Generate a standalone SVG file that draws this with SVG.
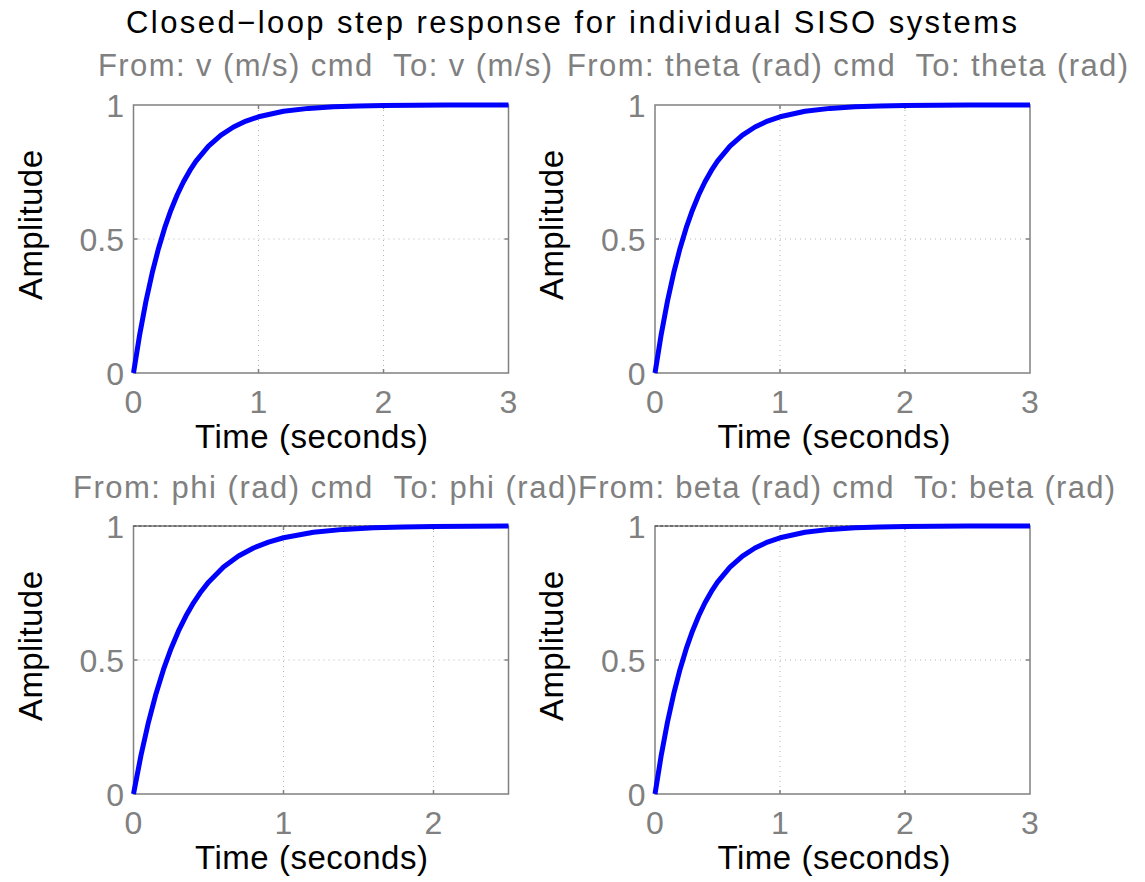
<svg xmlns="http://www.w3.org/2000/svg" width="1145" height="882" viewBox="0 0 1145 882">
<style>
text{font-family:"Liberation Sans",Arial,sans-serif}
.title{font-size:31px;fill:#000}
.sub{font-size:31px;fill:#808080;white-space:pre}
.lab{font-size:33px;fill:#000}
.tick{font-size:32px;fill:#808080}
.frame{fill:#fff;stroke:#808080;stroke-width:1.5}
.grid{stroke:#b4b4b4;stroke-width:1;stroke-dasharray:1 4;fill:none}
.tk{stroke:#808080;stroke-width:1.5}
.ss{stroke:#404040;stroke-width:1;stroke-dasharray:3 2;fill:none}
.curve{fill:none;stroke:#0000ff;stroke-width:5;stroke-linejoin:round;stroke-linecap:butt}
</style>
<defs>
<path id="c3" d="M0,0 L6.25,-38.78 12.5,-71.93 18.75,-100.29 25,-124.54 31.25,-145.31 37.5,-163.05 43.75,-178.22 50,-191.22 56.25,-202.31 62.5,-211.83 75,-226.89 87.5,-237.93 100,-246 112.5,-251.89 125,-256.23 150,-261.7 175,-264.62 200,-266.2 225,-267.04 250,-267.49 312.5,-267.89 375,-268"/>
<path id="c25" d="M0,0 L7.5,-38.78 15,-71.93 22.5,-100.29 30,-124.54 37.5,-145.31 45,-163.05 52.5,-178.22 60,-191.22 67.5,-202.31 75,-211.83 90,-226.89 105,-237.93 120,-246 135,-251.89 150,-256.23 180,-261.7 210,-264.62 240,-266.2 270,-267.04 300,-267.49 375,-267.89"/>
</defs>
<rect width="1145" height="882" fill="#fff"/>
<text class="title" x="571.5" y="33" text-anchor="middle" textLength="891" lengthAdjust="spacing">Closed−loop step response for individual SISO systems</text>

<g id="plot-v">
<text class="sub" x="325" y="76" text-anchor="middle" textLength="454" lengthAdjust="spacing">From: v (m/s) cmd  To: v (m/s)</text>
<rect class="frame" x="133.5" y="105" width="375" height="268"/>
<line class="grid" x1="258.5" y1="105" x2="258.5" y2="373"/>
<line class="grid" x1="383.5" y1="105" x2="383.5" y2="373"/>
<line class="grid" x1="133.5" y1="239" x2="508.5" y2="239"/>
<path class="tk" d="M258.5,373v-4M383.5,373v-4M258.5,105v4M383.5,105v4M133.5,239h4M508.5,239h-4"/>
<use href="#c3" class="curve" transform="translate(133.5,373)"/>
<text class="tick" x="124" y="117" text-anchor="end">1</text>
<text class="tick" x="124" y="251" text-anchor="end">0.5</text>
<text class="tick" x="124" y="385" text-anchor="end">0</text>
<text class="tick" x="133.5" y="413" text-anchor="middle">0</text>
<text class="tick" x="258.5" y="413" text-anchor="middle">1</text>
<text class="tick" x="383.5" y="413" text-anchor="middle">2</text>
<text class="tick" x="508.5" y="413" text-anchor="middle">3</text>
<text class="lab" x="311.5" y="448" text-anchor="middle" textLength="233" lengthAdjust="spacing">Time (seconds)</text>
<text class="lab" transform="translate(42,225) rotate(-90)" text-anchor="middle" textLength="150" lengthAdjust="spacing">Amplitude</text>
</g>

<g id="plot-theta">
<text class="sub" x="847.5" y="76" text-anchor="middle" textLength="561" lengthAdjust="spacing">From: theta (rad) cmd  To: theta (rad)</text>
<rect class="frame" x="655" y="105" width="375" height="268"/>
<line class="grid" x1="780" y1="105" x2="780" y2="373"/>
<line class="grid" x1="905" y1="105" x2="905" y2="373"/>
<line class="grid" x1="655" y1="239" x2="1030" y2="239"/>
<path class="tk" d="M780,373v-4M905,373v-4M780,105v4M905,105v4M655,239h4M1030,239h-4"/>
<use href="#c3" class="curve" transform="translate(655,373)"/>
<text class="tick" x="645.5" y="117" text-anchor="end">1</text>
<text class="tick" x="645.5" y="251" text-anchor="end">0.5</text>
<text class="tick" x="645.5" y="385" text-anchor="end">0</text>
<text class="tick" x="655" y="413" text-anchor="middle">0</text>
<text class="tick" x="780" y="413" text-anchor="middle">1</text>
<text class="tick" x="905" y="413" text-anchor="middle">2</text>
<text class="tick" x="1030" y="413" text-anchor="middle">3</text>
<text class="lab" x="834" y="448" text-anchor="middle" textLength="233" lengthAdjust="spacing">Time (seconds)</text>
<text class="lab" transform="translate(563,225) rotate(-90)" text-anchor="middle" textLength="150" lengthAdjust="spacing">Amplitude</text>
</g>

<g id="plot-phi">
<text class="sub" x="325" y="498" text-anchor="middle" textLength="504" lengthAdjust="spacing">From: phi (rad) cmd  To: phi (rad)</text>
<rect class="frame" x="133.5" y="526" width="375" height="268"/>
<line class="grid" x1="283.5" y1="526" x2="283.5" y2="794"/>
<line class="grid" x1="433.5" y1="526" x2="433.5" y2="794"/>
<line class="grid" x1="133.5" y1="660" x2="508.5" y2="660"/>
<path class="tk" d="M283.5,794v-4M433.5,794v-4M283.5,526v4M433.5,526v4M133.5,660h4M508.5,660h-4"/>
<line class="ss" x1="133.5" y1="526" x2="508.5" y2="526"/>
<use href="#c25" class="curve" transform="translate(133.5,794)"/>
<text class="tick" x="124" y="538" text-anchor="end">1</text>
<text class="tick" x="124" y="672" text-anchor="end">0.5</text>
<text class="tick" x="124" y="806" text-anchor="end">0</text>
<text class="tick" x="133.5" y="834" text-anchor="middle">0</text>
<text class="tick" x="283.5" y="834" text-anchor="middle">1</text>
<text class="tick" x="433.5" y="834" text-anchor="middle">2</text>
<text class="lab" x="311.5" y="869" text-anchor="middle" textLength="233" lengthAdjust="spacing">Time (seconds)</text>
<text class="lab" transform="translate(42,646) rotate(-90)" text-anchor="middle" textLength="150" lengthAdjust="spacing">Amplitude</text>
</g>

<g id="plot-beta">
<text class="sub" x="846.5" y="498" text-anchor="middle" textLength="537" lengthAdjust="spacing">From: beta (rad) cmd  To: beta (rad)</text>
<rect class="frame" x="655" y="526" width="375" height="268"/>
<line class="grid" x1="780" y1="526" x2="780" y2="794"/>
<line class="grid" x1="905" y1="526" x2="905" y2="794"/>
<line class="grid" x1="655" y1="660" x2="1030" y2="660"/>
<path class="tk" d="M780,794v-4M905,794v-4M780,526v4M905,526v4M655,660h4M1030,660h-4"/>
<line class="ss" x1="655" y1="526" x2="1030" y2="526"/>
<use href="#c3" class="curve" transform="translate(655,794)"/>
<text class="tick" x="645.5" y="538" text-anchor="end">1</text>
<text class="tick" x="645.5" y="672" text-anchor="end">0.5</text>
<text class="tick" x="645.5" y="806" text-anchor="end">0</text>
<text class="tick" x="655" y="834" text-anchor="middle">0</text>
<text class="tick" x="780" y="834" text-anchor="middle">1</text>
<text class="tick" x="905" y="834" text-anchor="middle">2</text>
<text class="tick" x="1030" y="834" text-anchor="middle">3</text>
<text class="lab" x="834" y="869" text-anchor="middle" textLength="233" lengthAdjust="spacing">Time (seconds)</text>
<text class="lab" transform="translate(563,646) rotate(-90)" text-anchor="middle" textLength="150" lengthAdjust="spacing">Amplitude</text>
</g>
</svg>
